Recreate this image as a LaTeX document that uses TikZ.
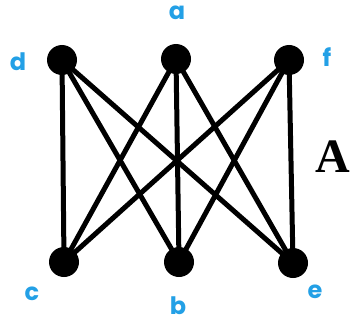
\documentclass[tikz,border=0pt]{standalone}
\usepackage{fontspec}
\setmainfont{Liberation Serif}
\newfontfamily\handfont{Poppins}
\definecolor{penblue}{RGB}{35,160,230}

\begin{document}
\begin{tikzpicture}[x=0.75pt,y=-0.75pt,
  vtx/.style={circle, fill=black, inner sep=0pt, minimum size=22.5pt},
  edge/.style={black, line width=3.75pt},
  lbl/.style={text=penblue, font=\handfont\bfseries\fontsize{18}{18}\selectfont}]
\useasboundingbox (0,0) rectangle (352,324);
\fill[white] (0,0) rectangle (352,324);
% top row
\node[vtx] (d) at (62,60) {};
\node[vtx] (a) at (176,59) {};
\node[vtx] (f) at (289,60) {};
% bottom row
\node[vtx] (c) at (64,262) {};
\node[vtx] (b) at (179,262) {};
\node[vtx] (e) at (293,263) {};
% edges
\draw[edge] (d.center) -- (c.center);
\draw[edge] (d.center) -- (b.center);
\draw[edge] (d.center) -- (e.center);
\draw[edge] (a.center) -- (c.center);
\draw[edge] (a.center) -- (b.center);
\draw[edge] (a.center) -- (e.center);
\draw[edge] (f.center) -- (c.center);
\draw[edge] (f.center) -- (b.center);
\draw[edge] (f.center) -- (e.center);
% handwritten labels
\node[lbl] (ld) at (18,62) {d};
\node[lbl] (la) at (177,13) {a};
\node[lbl] (lf) at (327,57) {f};
\node[lbl] (lc) at (32,294) {c};
\node[lbl] (lb) at (178,306) {b};
\node[lbl] (le) at (315,292) {e};
\node[font=\bfseries\fontsize{36}{40}\selectfont, inner sep=0pt] (A) at (333,157) {A};
\end{tikzpicture}
\end{document}
